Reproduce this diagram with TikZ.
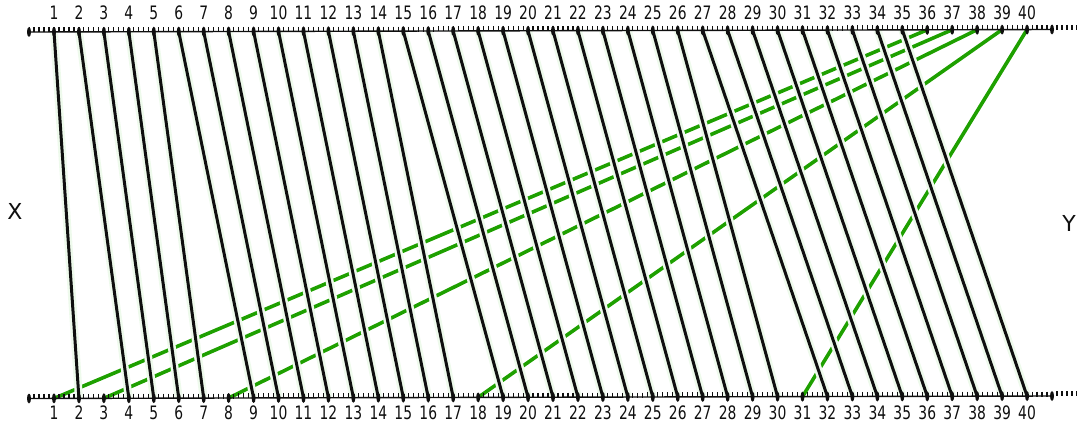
\documentclass[tikz,border=0pt]{standalone}
\usepackage{fontspec}
\setmainfont{DejaVu Sans}
\newfontfamily\condfont{DejaVu Sans}[FakeStretch=0.75]
\definecolor{lgreen}{RGB}{30,160,0}
\definecolor{halocol}{RGB}{238,250,236}
\definecolor{inkcol}{RGB}{15,15,15}
\tikzset{
  lab/.style={inner sep=0pt, font=\condfont\fontsize{18.5}{19}\selectfont, text=inkcol},
  biglab/.style={inner sep=0pt, font=\fontsize{22}{24}\selectfont, text=inkcol},
  axisline/.style={draw=inkcol, line width=1.4pt},
  tickmark/.style={draw=inkcol, line width=1.1pt},
  dotmark/.style={fill=inkcol},
  blk/.style={draw=inkcol, line width=3pt, preaction={draw=halocol, line width=8pt}},
  grn/.style={draw=lgreen, line width=3.6pt}
}
\begin{document}
\begin{tikzpicture}[x=1pt,y=-1pt]
\useasboundingbox (0,0) rectangle (1077,428);
% coordinates and labels
\foreach \i in {1,...,40}{
  \pgfmathsetmacro\xx{54+24.95*(\i-1)}
  \pgfmathsetmacro\yt{32-2.5*(\xx-29)/1023}
  \pgfmathsetmacro\yb{398.5-2.5*(\xx-29)/1023}
  \coordinate (t\i) at (\xx,\yt);
  \coordinate (b\i) at (\xx,\yb);
  \node[lab] (tl\i) at (\xx,12.7) {\i};
  \node[lab] (bl\i) at (\xx,412.5) {\i};
}
\coordinate (tL) at (29,32);
\coordinate (tR) at (1052,29.5);
\coordinate (bL) at (29,398.5);
\coordinate (bR) at (1052,396);
% green connectors
\draw[grn] (b1) -- (t36);
\draw[grn] (b3) -- (t37);
\draw[grn] (b8) -- (t38);
\draw[grn] (b18) -- (t39);
\draw[grn] (b31) -- (t40);
% black connectors
\foreach \a/\b in {1/2,2/4,3/5,4/6,5/7,6/9,7/10,8/11,9/12,10/13,11/14,12/15,13/16,14/17,
  15/19,16/20,17/21,18/22,19/23,20/24,21/25,22/26,23/27,24/28,25/29,26/30,
  27/32,28/33,29/34,30/35,31/36,32/37,33/38,34/39,35/40}{
  \draw[blk] (t\a) -- (b\b);
}
% axes
\draw[axisline] (tL) -- (tR);
\draw[axisline] (bL) -- (bR);
\foreach \k in {-5,...,205}{
  \pgfmathsetmacro\xx{54+4.99*\k}
  \pgfmathsetmacro\yt{32-2.5*(\xx-29)/1023}
  \pgfmathsetmacro\yb{398.5-2.5*(\xx-29)/1023}
  \draw[tickmark] (\xx,\yt-4.5) -- (\xx,\yt+0.5);
  \draw[tickmark] (\xx,\yb-4.5) -- (\xx,\yb+0.5);
}
\foreach \i in {1,...,40}{
  \fill[dotmark] (t\i) ellipse (2 and 5);
  \fill[dotmark] (b\i) ellipse (2 and 5);
}
\fill[dotmark] (tL) ellipse (2 and 5);
\fill[dotmark] (tR) ellipse (2 and 5);
\fill[dotmark] (bL) ellipse (2 and 5);
\fill[dotmark] (bR) ellipse (2 and 5);
% side labels
\node[biglab] (xlab) at (15,211) {X};
\node[biglab] (ylab) at (1069,223) {Y};
\end{tikzpicture}
\end{document}
